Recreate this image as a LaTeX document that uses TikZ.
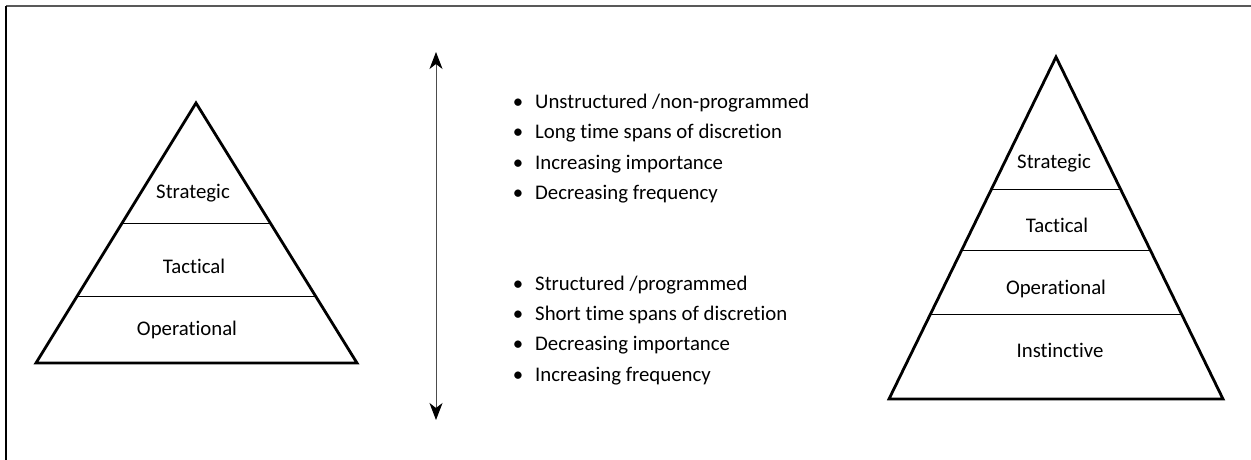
\documentclass[tikz,border=0pt]{standalone}
\usepackage{fontspec}
\setmainfont{Carlito}[Ligatures=NoCommon]
\usetikzlibrary{arrows.meta}
\begin{document}
\begin{tikzpicture}[x=1pt,y=-1pt,
  outline/.style={line width=2.8pt,line join=miter},
  divider/.style={line width=0.9pt},
  lvl/.style={inner sep=0pt,anchor=base,font=\fontsize{20.8}{24}\selectfont},
  item/.style={inner sep=0pt,anchor=base west,font=\fontsize{20.8}{24}\selectfont},
  dot/.style={inner sep=0pt,anchor=base,font=\fontsize{20.8}{24}\selectfont},
  axis/.style={line width=0.9pt,draw=black!70,{Stealth[length=17pt,width=13pt,inset=5pt,black]}-{Stealth[length=17pt,width=13pt,inset=5pt,black]}}]
\useasboundingbox (0,0) rectangle (1251,460);
\fill[white] (0,0) rectangle (1251,460);

% page frame
\draw[line width=2pt,draw=black!65] (6,6) -- (1251,6);
\draw[line width=1.2pt] (6,6) -- (6,460);

% left pyramid: three levels
\coordinate (LA) at (196,103);
\coordinate (LL) at (36,363);
\coordinate (LR) at (357,363);
\begin{scope}
  \clip (LA) -- (LL) -- (LR) -- cycle;
  \draw[divider] (0,223) -- (400,223);
  \draw[divider] (0,296) -- (400,296);
\end{scope}
\draw[outline] (LA) -- (LL) -- (LR) -- cycle;
\node[lvl] (ls) at (193,198) {Strategic};
\node[lvl] (lt) at (194,273) {Tactical};
\node[lvl] (lo) at (187,335) {Operational};

% vertical double arrow
\coordinate (top) at (436,52);
\coordinate (bot) at (436,420);
\draw[axis] (bot) -- (top);

% upper list
\foreach \y/\t [count=\i] in {108/{Unstructured /non-programmed},
                              139/{Long time spans of discretion},
                              169/{Increasing importance},
                              199/{Decreasing frequency}}{
  \node[dot] (ub\i) at (518,\y) {•};
  \node[item] (ut\i) at (535,\y) {\t};
}
% lower list
\foreach \y/\t [count=\i] in {290/{Structured /programmed},
                              320/{Short time spans of discretion},
                              350/{Decreasing importance},
                              381/{Increasing frequency}}{
  \node[dot] (lb\i) at (518,\y) {•};
  \node[item] (lt\i) at (535,\y) {\t};
}

% right pyramid: four levels
\coordinate (RA) at (1056,57);
\coordinate (RL) at (889,399);
\coordinate (RR) at (1223,399);
\begin{scope}
  \clip (RA) -- (RL) -- (RR) -- cycle;
  \draw[divider] (850,189) -- (1250,189);
  \draw[divider] (850,250) -- (1250,250);
  \draw[divider] (850,314) -- (1250,314);
\end{scope}
\draw[outline] (RA) -- (RL) -- (RR) -- cycle;
\node[lvl] (rs) at (1054,168) {Strategic};
\node[lvl] (rt) at (1057,232) {Tactical};
\node[lvl] (ro) at (1056,294) {Operational};
\node[lvl] (ri) at (1060,357) {Instinctive};
\end{tikzpicture}
\end{document}
